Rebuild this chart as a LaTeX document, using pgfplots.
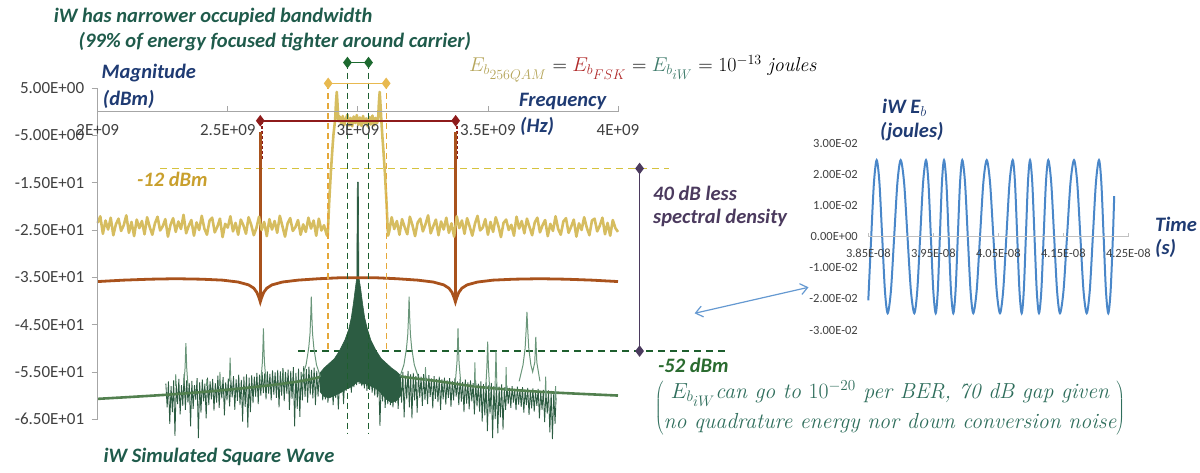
\RequirePackage{fix-cm}
\documentclass[border=0pt]{standalone}
\usepackage{fontspec}
\usepackage{pgfplots}
\pgfplotsset{compat=1.18}
\usetikzlibrary{arrows.meta}
\newfontfamily\calibri{Carlito}
\definecolor{axisgray}{HTML}{A6A6A6}
\definecolor{ticktext}{HTML}{404040}
\definecolor{titleteal}{HTML}{1F5B4B}
\definecolor{navy}{HTML}{1F3B73}
\definecolor{goldtext}{HTML}{C9A02E}
\definecolor{purp}{HTML}{4B3A5E}
\definecolor{green52}{HTML}{2A6B2F}
\definecolor{parteal}{HTML}{2F6E5C}
\definecolor{qamyellow}{HTML}{D6BD60}
\definecolor{fskbrown}{HTML}{A9521C}
\definecolor{darkred}{HTML}{8E1B1B}
\definecolor{goldline}{HTML}{E8B94F}
\definecolor{golddash}{HTML}{E5A83A}
\definecolor{olivedash}{HTML}{D5C23E}
\definecolor{dkgreenline}{HTML}{1D6A30}
\definecolor{greendash}{HTML}{1E5E2E}
\definecolor{noisegreen}{HTML}{2C5C42}
\definecolor{spikegreen}{HTML}{6A967A}
\definecolor{trendgreen}{HTML}{52804F}
\definecolor{sineblue}{HTML}{4A87C9}
\definecolor{eqgold}{HTML}{B5A55A}
\definecolor{eqred}{HTML}{B02A2A}
\definecolor{eqteal}{HTML}{3D7A6A}
\begin{document}
\begin{tikzpicture}[x=1pt,y=1pt]
\useasboundingbox (0,0) rectangle (1200,472);
\begin{axis}[
  at={(97.7pt,52.8pt)}, anchor=south west,
  scale only axis, width=520.3pt, height=331.1pt,
  xmin=2, xmax=4, ymin=-65, ymax=5,
  axis x line=middle, axis y line=left,
  axis line style={draw=axisgray, line width=0.8pt, -},
  hide obscured x ticks=false, hide obscured y ticks=false,
  axis on top,
  xtick={2,2.5,3,3.5,4}, xticklabels={2E+09,2.5E+09,3E+09,3.5E+09,4E+09},
  ytick={5,-5,-15,-25,-35,-45,-55,-65},
  yticklabels={5.00E+00,-5.00E+00,-1.50E+01,-2.50E+01,-3.50E+01,-4.50E+01,-5.50E+01,-6.50E+01},
  /pgf/number format/assume math mode=true,
  tick label style={font=\calibri\fontsize{17}{17}\selectfont, text=ticktext},
  xticklabel style={yshift=-9pt}, yticklabel style={xshift=-4pt},
  major tick length=6pt,
  tick style={draw=axisgray, line width=0.8pt},
  xtick align=inside, ytick align=outside,
  clip=false,
]
% -12 dBm and -52 dBm reference lines
\addplot[olivedash, line width=1.5pt, dash pattern=on 7pt off 5pt] coordinates {(2.24,-12) (4.197,-12)};
\addplot[greendash, line width=1.5pt, dash pattern=on 7pt off 5pt] coordinates {(2.77,-50.6) (4.425,-50.6)};
% iW noise, left band
\addplot[noisegreen, line width=0.85pt] coordinates {
(2.262,-57.5)(2.267,-62.5)(2.272,-57.0)(2.277,-66.0)(2.282,-58.0)(2.287,-63.5)(2.292,-56.8)(2.297,-68.5)(2.302,-57.6)(2.307,-61.8)
(2.312,-56.5)(2.317,-64.0)(2.322,-57.8)(2.327,-62.2)(2.332,-55.5)(2.337,-63.0)(2.342,-56.8)(2.347,-61.5)(2.352,-57.3)(2.357,-66.5)
(2.362,-56.9)(2.367,-62.8)(2.372,-57.8)(2.377,-60.9)(2.382,-56.3)(2.387,-69.0)(2.392,-57.2)(2.397,-63.6)(2.402,-56.6)(2.407,-61.2)
(2.412,-57.5)(2.417,-64.8)(2.422,-56.2)(2.427,-62.0)(2.432,-57.0)(2.437,-60.8)(2.442,-56.5)(2.447,-63.2)(2.452,-57.4)(2.457,-61.5)
(2.462,-55.8)(2.467,-62.6)(2.472,-56.9)(2.477,-60.6)(2.482,-56.1)(2.487,-64.2)(2.492,-57.2)(2.497,-61.0)(2.502,-56.4)(2.507,-62.3)
(2.512,-56.8)(2.517,-60.4)(2.522,-55.9)(2.527,-63.0)(2.532,-56.6)(2.537,-61.1)(2.542,-55.6)(2.547,-62.0)(2.552,-56.7)(2.557,-65.5)
(2.562,-56.0)(2.567,-62.4)(2.572,-55.5)(2.577,-66.8)(2.582,-56.2)(2.587,-63.5)(2.592,-55.7)(2.597,-61.6)(2.602,-56.0)(2.607,-60.2)
(2.612,-55.2)(2.617,-61.8)(2.622,-55.6)(2.627,-60.0)(2.632,-55.0)(2.637,-59.5)(2.642,-55.3)(2.647,-60.8)(2.652,-54.9)(2.657,-59.6)
(2.662,-55.4)(2.667,-61.0)(2.672,-54.7)(2.677,-59.8)(2.682,-55.1)(2.687,-60.5)(2.692,-54.6)(2.697,-62.5)(2.702,-54.9)(2.707,-60.0)
(2.712,-54.2)(2.717,-61.2)(2.722,-55.0)(2.727,-59.6)(2.732,-54.5)(2.737,-63.0)(2.742,-54.8)(2.747,-60.7)(2.752,-54.0)(2.757,-66.5)
(2.762,-55.2)(2.767,-62.8)(2.772,-54.3)(2.777,-64.5)(2.782,-55.0)(2.787,-61.0)(2.792,-53.8)(2.797,-60.3)(2.802,-54.4)(2.807,-61.5)
(2.812,-53.9)(2.817,-59.8)(2.822,-54.6)(2.827,-60.6)(2.832,-54.1)(2.837,-62.0)(2.842,-54.8)(2.847,-60.2)(2.852,-55.2)(2.857,-59.0)};
% iW noise, right band
\addplot[noisegreen, line width=0.85pt] coordinates {
(3.163,-55.6)(3.168,-61.5)(3.173,-55.0)(3.178,-64.6)(3.183,-55.8)(3.188,-60.8)(3.193,-54.8)(3.198,-62.5)(3.203,-55.5)(3.208,-64.8)
(3.213,-55.2)(3.218,-61.0)(3.223,-55.9)(3.228,-63.6)(3.233,-55.4)(3.238,-60.5)(3.243,-56.0)(3.248,-62.2)(3.253,-55.5)(3.258,-60.9)
(3.263,-56.2)(3.268,-61.8)(3.273,-55.7)(3.278,-60.3)(3.283,-56.4)(3.288,-62.7)(3.293,-55.9)(3.298,-60.7)(3.303,-56.5)(3.308,-61.4)
(3.313,-56.0)(3.318,-63.0)(3.323,-56.6)(3.328,-60.8)(3.333,-56.2)(3.338,-61.9)(3.343,-56.8)(3.348,-60.5)(3.353,-56.3)(3.358,-62.4)
(3.363,-56.9)(3.368,-61.0)(3.373,-56.4)(3.378,-60.2)(3.383,-57.0)(3.388,-62.0)(3.393,-56.5)(3.398,-61.3)(3.403,-57.1)(3.408,-63.5)
(3.413,-56.6)(3.418,-61.7)(3.423,-57.2)(3.428,-62.9)(3.433,-56.8)(3.438,-61.2)(3.443,-57.4)(3.448,-64.0)(3.453,-56.9)(3.458,-62.3)
(3.463,-57.5)(3.468,-63.4)(3.473,-57.0)(3.478,-65.5)(3.483,-57.6)(3.488,-64.2)(3.493,-57.2)(3.498,-67.5)(3.503,-57.8)(3.508,-63.8)
(3.513,-57.3)(3.518,-69.0)(3.523,-58.0)(3.528,-65.0)(3.533,-57.5)(3.538,-68.0)(3.543,-58.1)(3.548,-64.6)(3.553,-57.6)(3.558,-67.2)
(3.563,-58.3)(3.568,-63.0)(3.573,-57.9)(3.578,-61.8)(3.583,-58.4)(3.588,-62.6)(3.593,-58.0)(3.598,-61.5)(3.603,-58.6)(3.608,-63.1)
(3.613,-58.1)(3.618,-61.9)(3.623,-58.7)(3.628,-62.4)(3.633,-58.2)(3.638,-63.6)(3.643,-58.8)(3.648,-62.0)(3.653,-58.4)(3.658,-64.1)
(3.663,-58.9)(3.668,-62.7)(3.673,-58.5)(3.678,-63.4)(3.683,-59.0)(3.688,-62.2)(3.693,-58.6)(3.698,-64.8)(3.703,-59.1)(3.708,-63.0)
(3.713,-58.8)(3.718,-65.6)(3.723,-59.2)(3.728,-63.8)(3.733,-58.9)(3.738,-67.8)(3.743,-59.0)(3.748,-69.2)(3.753,-59.3)(3.758,-66.0)(3.762,-60.5)};
% trend line
\addplot[trendgreen, line width=2.6pt, smooth] coordinates {
(2.0,-60.7)(2.3,-59.7)(2.55,-58.5)(2.75,-57.2)(2.86,-56.0)(3.0,-53.5)(3.15,-55.8)(3.3,-56.9)(3.47,-58.2)(3.7,-59.2)(4.0,-60.0)};
% central dense region
\addplot[fill=noisegreen, draw=noisegreen, line width=0.6pt] coordinates {
(2.855,-55.2)(2.87,-54.2)(2.89,-53.2)(2.91,-52.2)(2.93,-50.5)(2.95,-48.3)(2.965,-46.0)(2.975,-43.5)(2.983,-40.5)(2.99,-37.5)
(2.996,-35.0)(2.998,-14.9)(3.002,-14.9)(3.004,-35.0)
(3.011,-37.5)(3.018,-40.5)(3.026,-43.5)(3.037,-46.0)(3.05,-48.3)(3.07,-50.5)(3.09,-52.2)(3.11,-53.2)(3.13,-54.2)(3.15,-55.0)(3.165,-55.8)
(3.165,-60.0)(3.15,-61.0)(3.13,-61.5)(3.11,-60.8)(3.09,-59.5)(3.07,-58.5)(3.05,-58.0)(3.03,-57.5)(3.015,-57.6)(3.005,-57.0)
(2.995,-57.2)(2.985,-57.8)(2.97,-58.3)(2.95,-58.8)(2.93,-59.5)(2.91,-60.0)(2.89,-60.5)(2.87,-60.2)(2.855,-59.2)} -- cycle;
\addplot[noisegreen, line width=0.85pt] coordinates {
(2.860,-56.0)(2.865,-61.0)(2.870,-57.0)(2.875,-60.8)(2.880,-56.5)(2.885,-61.5)(2.890,-57.5)(2.895,-60.2)(2.900,-56.0)(2.905,-62.0)
(2.910,-57.0)(2.915,-60.5)(2.920,-56.2)(2.925,-62.9)(2.930,-56.8)(2.935,-59.5)(2.940,-55.5)(2.945,-61.8)(2.950,-55.9)(2.955,-59.0)
(2.960,-55.0)(2.965,-58.6)(2.970,-54.5)(2.975,-59.4)(2.980,-54.0)(2.985,-58.2)(2.990,-53.5)(2.995,-57.8)(3.000,-52.0)(3.005,-57.5)
(3.010,-53.5)(3.015,-58.0)(3.020,-54.0)(3.025,-58.5)(3.030,-54.5)(3.035,-59.0)(3.040,-55.0)(3.045,-58.8)(3.050,-55.2)(3.055,-59.4)
(3.060,-55.8)(3.065,-60.0)(3.070,-55.5)(3.075,-60.4)(3.080,-56.0)(3.085,-66.4)(3.090,-56.5)(3.095,-61.2)(3.100,-56.2)(3.105,-62.6)
(3.110,-56.8)(3.115,-61.8)(3.120,-57.0)(3.125,-62.0)(3.130,-56.5)(3.135,-62.5)(3.140,-57.2)(3.145,-61.5)(3.150,-56.8)(3.155,-62.8)(3.160,-57.0)};
% spurs
\addplot[spikegreen, line width=1pt] coordinates {
(2.786,-56)(2.801,-53.5)(2.811,-50)(2.816,-47)(2.819,-43)(2.821,-39.1)(2.823,-43)(2.826,-47)(2.831,-50)(2.841,-53.5)(2.856,-56)};
\addplot[spikegreen, line width=1pt] coordinates {
(3.162,-56)(3.177,-53.5)(3.187,-50)(3.192,-47)(3.195,-43)(3.197,-39.1)(3.199,-43)(3.202,-47)(3.207,-50)(3.217,-53.5)(3.232,-56)};
\addplot[spikegreen, line width=1pt] coordinates {
(3.620,-57)(3.635,-53.5)(3.643,-50)(3.647,-46)(3.650,-42.3)(3.653,-46)(3.657,-50)(3.665,-53.5)(3.672,-55)(3.680,-53)(3.684,-47.6)(3.688,-53)(3.700,-57)};
\addplot[spikegreen, line width=1pt] coordinates {(2.627,-57)(2.633,-53)(2.635,-50)(2.637,-45.8)(2.639,-50)(2.641,-53)(2.647,-57)};
\addplot[spikegreen, line width=1pt] coordinates {(3.375,-57)(3.381,-53)(3.383,-50)(3.385,-45.8)(3.387,-50)(3.389,-53)(3.395,-57)};
\addplot[spikegreen, line width=1pt] coordinates {(2.331,-58)(2.336,-54)(2.339,-48.9)(2.342,-54)(2.347,-58)};
\addplot[spikegreen, line width=1pt] coordinates {(3.491,-59)(3.496,-54)(3.499,-48.6)(3.502,-54)(3.507,-59)};
\addplot[spikegreen, line width=0.9pt] coordinates {(3.527,-59)(3.531,-50.5)(3.535,-59)};
\addplot[spikegreen, line width=0.9pt] coordinates {(2.298,-58)(2.300,-55.5)(2.302,-58)};
\addplot[spikegreen, line width=0.9pt] coordinates {(2.418,-58)(2.420,-56.5)(2.422,-58)};
\addplot[spikegreen, line width=0.9pt] coordinates {(2.468,-58)(2.470,-55.0)(2.472,-58)};
\addplot[spikegreen, line width=0.9pt] coordinates {(2.506,-57)(2.509,-52.0)(2.512,-57)};
\addplot[spikegreen, line width=0.9pt] coordinates {(2.712,-57)(2.714,-54.5)(2.716,-57)};
\addplot[spikegreen, line width=0.9pt] coordinates {(3.258,-57)(3.260,-54.0)(3.262,-57)};
\addplot[spikegreen, line width=0.9pt] coordinates {(3.448,-58)(3.450,-53.0)(3.452,-58)};
\addplot[spikegreen, line width=0.9pt] coordinates {(3.568,-59)(3.570,-54.0)(3.572,-59)};
\addplot[spikegreen, line width=0.9pt] coordinates {(3.720,-60)(3.722,-56.0)(3.724,-60)};
\addplot[spikegreen, line width=0.9pt] coordinates {(3.758,-61)(3.760,-58.0)(3.762,-61)};
% FSK
\addplot[fskbrown, line width=2.8pt] coordinates {
(2.000,-35.9)(2.100,-35.6)(2.200,-35.4)(2.300,-35.3)(2.400,-35.4)(2.480,-35.6)(2.540,-36.0)(2.580,-36.6)(2.600,-37.3)(2.612,-38.2)
(2.620,-39.3)(2.625,-40.2)(2.630,-39.3)(2.638,-38.2)(2.650,-37.3)(2.670,-36.6)(2.710,-36.0)(2.770,-35.6)(2.850,-35.3)(2.930,-35.1)
(3.000,-35.1)(3.070,-35.1)(3.150,-35.3)(3.230,-35.6)(3.290,-36.0)(3.330,-36.6)(3.350,-37.3)(3.362,-38.2)(3.370,-39.3)(3.375,-40.2)
(3.380,-39.3)(3.388,-38.2)(3.400,-37.3)(3.420,-36.6)(3.460,-36.0)(3.520,-35.6)(3.600,-35.4)(3.700,-35.3)(3.800,-35.4)(3.900,-35.6)(4.000,-35.9)};
\addplot[darkred, line width=1.5pt, dash pattern=on 3pt off 2pt] coordinates {(2.631,-1.9) (2.631,-10)};
\addplot[darkred, line width=1.5pt, dash pattern=on 3pt off 2pt] coordinates {(3.381,-1.9) (3.381,-10)};
\addplot[fskbrown, line width=2.8pt] coordinates {(2.625,-39.5) (2.625,-4.3)};
\addplot[fskbrown, line width=2.8pt] coordinates {(3.375,-39.5) (3.375,-4.3)};
% 256QAM
\addplot[qamyellow, line width=2.6pt, line join=round] coordinates {
(2.000,-23.5)(2.010,-22.1)(2.020,-25.8)(2.030,-23.0)(2.040,-24.9)(2.050,-22.4)(2.060,-26.1)(2.070,-23.8)(2.080,-22.6)(2.090,-25.2)
(2.100,-24.0)(2.110,-21.9)(2.120,-25.6)(2.130,-23.3)(2.140,-26.3)(2.150,-22.8)(2.160,-24.6)(2.170,-23.1)(2.180,-25.9)(2.190,-22.3)
(2.200,-24.4)(2.210,-26.0)(2.220,-23.6)(2.230,-22.2)(2.240,-25.1)(2.250,-24.2)(2.260,-22.7)(2.270,-26.4)(2.280,-23.9)(2.290,-22.5)
(2.300,-25.4)(2.310,-23.2)(2.320,-24.8)(2.330,-21.8)(2.340,-25.7)(2.350,-24.1)(2.360,-22.9)(2.370,-26.2)(2.380,-23.4)(2.390,-25.0)
(2.400,-22.0)(2.410,-24.7)(2.420,-26.0)(2.430,-23.0)(2.440,-22.4)(2.450,-25.5)(2.460,-24.3)(2.470,-22.6)(2.480,-26.5)(2.490,-23.7)
(2.500,-24.5)(2.510,-22.1)(2.520,-25.3)(2.530,-23.5)(2.540,-26.0)(2.550,-22.8)(2.560,-24.0)(2.570,-25.8)(2.580,-22.3)(2.590,-23.9)
(2.600,-26.1)(2.610,-24.6)(2.620,-22.2)(2.630,-25.0)(2.640,-23.3)(2.650,-26.3)(2.660,-22.7)(2.670,-24.9)(2.680,-23.1)(2.690,-25.6)
(2.700,-22.0)(2.710,-24.2)(2.720,-26.4)(2.730,-23.6)(2.740,-22.5)(2.750,-25.2)(2.760,-24.4)(2.770,-22.9)(2.780,-26.0)(2.790,-23.8)
(2.800,-25.4)(2.810,-22.4)(2.820,-24.7)(2.830,-23.0)(2.840,-26.2)(2.850,-22.6)(2.860,-25.1)(2.870,-24.0)(2.880,-26.0)
(2.884,-26.3)(2.890,-19.0)(2.896,-13.0)(2.902,-8.0)(2.906,-5.0)(2.910,-3.0)(2.913,-1.5)(2.916,2.0)(2.919,4.2)(2.922,1.5)
(2.925,-2.0)(2.930,-1.0)(2.936,-2.6)(2.942,-0.9)(2.948,-2.8)(2.954,-1.5)(2.960,-0.6)(2.966,-2.9)(2.972,-1.3)(2.978,-3.1)
(2.984,-1.0)(2.990,-2.4)(2.996,-0.7)(3.002,-2.8)(3.008,-1.2)(3.014,-3.0)(3.020,-0.9)(3.026,-2.5)(3.032,-1.4)(3.038,-3.1)
(3.044,-1.1)(3.050,-2.7)(3.056,-0.8)(3.062,-2.9)(3.068,-1.3)(3.074,-2.4)(3.078,-1.5)(3.081,2.0)(3.084,4.2)(3.087,1.5)
(3.090,-1.5)(3.094,-5.0)(3.098,-8.0)(3.104,-13.0)(3.110,-19.0)(3.116,-26.2)
(3.120,-25.5)(3.130,-22.3)(3.140,-24.8)(3.150,-23.1)(3.160,-26.0)(3.170,-22.7)(3.180,-24.4)(3.190,-25.9)(3.200,-22.2)(3.210,-24.0)
(3.220,-26.3)(3.230,-23.4)(3.240,-22.6)(3.250,-25.3)(3.260,-23.8)(3.270,-21.9)(3.280,-25.7)(3.290,-24.2)(3.300,-22.8)(3.310,-26.1)
(3.320,-23.2)(3.330,-24.9)(3.340,-22.4)(3.350,-25.6)(3.360,-23.6)(3.370,-26.4)(3.380,-22.1)(3.390,-24.6)(3.400,-23.0)(3.410,-25.8)
(3.420,-22.5)(3.430,-24.3)(3.440,-26.2)(3.450,-23.7)(3.460,-22.0)(3.470,-25.1)(3.480,-24.5)(3.490,-22.7)(3.500,-26.0)(3.510,-23.3)
(3.520,-25.4)(3.530,-22.3)(3.540,-24.1)(3.550,-26.5)(3.560,-23.5)(3.570,-22.8)(3.580,-25.0)(3.590,-23.9)(3.600,-26.2)(3.610,-22.2)
(3.620,-24.7)(3.630,-23.1)(3.640,-25.7)(3.650,-22.6)(3.660,-24.4)(3.670,-26.1)(3.680,-23.4)(3.690,-22.4)(3.700,-25.5)(3.710,-24.0)
(3.720,-22.9)(3.730,-26.3)(3.740,-23.7)(3.750,-25.2)(3.760,-22.1)(3.770,-24.8)(3.780,-26.0)(3.790,-23.2)(3.800,-22.5)(3.810,-25.6)
(3.820,-24.3)(3.830,-22.8)(3.840,-26.4)(3.850,-23.6)(3.860,-25.0)(3.870,-22.3)(3.880,-24.5)(3.890,-26.1)(3.900,-23.0)(3.910,-22.6)
(3.920,-25.3)(3.930,-24.1)(3.940,-22.4)(3.950,-25.9)(3.960,-23.5)(3.970,-26.2)(3.980,-22.9)(3.990,-24.6)(4.000,-25.4)};
% bandwidth markers
\addplot[golddash, line width=1.4pt, dash pattern=on 6pt off 4pt] coordinates {(2.886,6.0) (2.886,-50.6)};
\addplot[golddash, line width=1.4pt, dash pattern=on 6pt off 4pt] coordinates {(3.109,6.0) (3.109,-50.6)};
\addplot[greendash, line width=1.4pt, dash pattern=on 6pt off 4pt] coordinates {(2.960,10.4) (2.960,-67.9)};
\addplot[greendash, line width=1.4pt, dash pattern=on 6pt off 4pt] coordinates {(3.041,10.4) (3.041,-67.9)};
\addplot[darkred, line width=1.6pt, mark=diamond*, mark size=4.5pt] coordinates {(2.625,-1.9) (3.376,-1.9)};
\addplot[goldline, line width=1.6pt, mark=diamond*, mark size=4.5pt] coordinates {(2.886,6.0) (3.109,6.0)};
\addplot[dkgreenline, line width=1.6pt, mark=diamond*, mark size=4.5pt] coordinates {(2.960,10.4) (3.041,10.4)};
\addplot[purp, line width=1.6pt, mark=diamond*, mark size=4.5pt] coordinates {(4.083,-12) (4.083,-50.6)};
\end{axis}
% inset
\begin{axis}[
  at={(868.3pt,142pt)}, anchor=south west,
  scale only axis, width=260pt, height=186.7pt,
  xmin=38.5, xmax=42.5, ymin=-0.03, ymax=0.03,
  axis x line=middle, axis y line=left,
  x axis line style={draw=axisgray!70, line width=0.8pt, -},
  y axis line style={draw=none},
  hide obscured x ticks=false, hide obscured y ticks=false,
  scaled y ticks=false, scaled x ticks=false,
  axis on top,
  xtick={38.5,39.5,40.5,41.5,42.5},
  xticklabels={3.85E-08,3.95E-08,4.05E-08,4.15E-08,4.25E-08},
  ytick={-0.03,-0.02,-0.01,0,0.01,0.02,0.03},
  yticklabels={-3.00E-02,-2.00E-02,-1.00E-02,0.00E+00,1.00E-02,2.00E-02,3.00E-02},
  /pgf/number format/assume math mode=true,
  tick label style={font=\calibri\fontsize{12.5}{12.5}\selectfont, text=ticktext},
  xticklabel style={yshift=-9pt}, yticklabel style={xshift=-5pt},
  x tick style={draw=axisgray!70, line width=0.8pt}, ytick style={draw=none},
  major tick length=4pt, xtick align=inside,
  clip=false,
]
\addplot[sineblue, line width=2pt, smooth] coordinates {
(38.500,-0.0205)(38.545,0)(38.587,0.0174)(38.629,0.0246)
(38.671,0.0174)(38.7135,0)(38.756,-0.0174)(38.798,-0.0246)
(38.848,-0.0174)(38.898,0)(38.948,0.0174)(38.998,0.0246)
(39.0505,0.0174)(39.103,0)(39.1555,-0.0174)(39.208,-0.0246)
(39.253,-0.0174)(39.298,0)(39.343,0.0174)(39.388,0.0246)
(39.425,0.0174)(39.4625,0)(39.500,-0.0174)(39.537,-0.0246)
(39.569,-0.0174)(39.601,0)(39.633,0.0174)(39.665,0.0246)
(39.701,0.0174)(39.7365,0)(39.772,-0.0174)(39.808,-0.0246)
(39.8425,-0.0174)(39.877,0)(39.9115,0.0174)(39.946,0.0246)
(39.988,0.0174)(40.0305,0)(40.073,-0.0174)(40.115,-0.0246)
(40.167,-0.0174)(40.2185,0)(40.270,0.0174)(40.322,0.0246)
(40.373,0.0174)(40.424,0)(40.475,-0.0174)(40.526,-0.0246)
(40.575,-0.0174)(40.624,0)(40.673,0.0174)(40.722,0.0246)
(40.7565,0.0174)(40.791,0)(40.8255,-0.0174)(40.860,-0.0246)
(40.892,-0.0174)(40.924,0)(40.956,0.0174)(40.988,0.0246)
(41.0225,0.0174)(41.057,0)(41.0915,-0.0174)(41.126,-0.0246)
(41.162,-0.0174)(41.1975,0)(41.233,0.0174)(41.269,0.0246)
(41.314,0.0174)(41.359,0)(41.404,-0.0174)(41.449,-0.0246)
(41.503,-0.0174)(41.557,0)(41.611,0.0174)(41.665,0.0246)
(41.714,0.0174)(41.7625,0)(41.811,-0.0174)(41.860,-0.0246)
(41.907,-0.0174)(41.9545,0)(42.002,0.0174)(42.049,0.0246)
(42.085,0.0174)(42.1205,0)(42.156,-0.0174)(42.192,-0.0246)
(42.228,-0.0174)(42.263,0)(42.283,0.0130)};
\end{axis}
% annotations
\def\ann{\calibri\bfseries\itshape\fontsize{20.5}{24}\selectfont}
\node[anchor=west, text=titleteal, inner sep=0pt] at (53.6,455.3) {\ann iW has narrower occupied bandwidth};
\node[anchor=west, text=titleteal, inner sep=0pt] at (78.5,430.3) {\ann (99\% of energy focused tighter around carrier)};
\node[anchor=west, text=navy, inner sep=0pt] at (101.5,399.3) {\ann Magnitude};
\node[anchor=west, text=navy, inner sep=0pt] at (102.7,372.7) {\ann (dBm)};
\node[anchor=west, text=navy, inner sep=0pt] at (519,370.3) {\ann Frequency};
\node[anchor=west, text=navy, inner sep=0pt] at (520,346) {\ann (Hz)};
\node[anchor=west, inner sep=0pt] at (469,403) {\fontsize{20}{24}\selectfont $\color{eqgold}E_{b_{\scriptstyle 256QAM}}\color{black}=\color{eqred}E_{b_{\scriptstyle FSK}}\color{black}=\color{eqteal}E_{b_{\scriptstyle iW}}\color{black}=10^{-13}\ \mathit{joules}$};
\node[anchor=west, text=goldtext, inner sep=0pt] at (137,292.7) {\ann -12 dBm};
\node[anchor=west, text=purp, inner sep=0pt] at (653,278.7) {\ann 40 dB less};
\node[anchor=west, text=purp, inner sep=0pt] at (653,253.7) {\ann spectral density};
\node[anchor=west, text=green52, inner sep=0pt] at (658,107) {\ann -52 dBm};
\node[text=parteal, inner sep=0pt] at (890,64) {\fontsize{21.8}{26}\selectfont $\left(\begin{array}{@{}c@{}}E_{b_{\scriptstyle iW}}\mbox{\itshape can go to }10^{-20}\mbox{\itshape\ per BER, 70 dB gap given}\\[4pt] \mbox{\itshape no quadrature energy nor down conversion noise}\end{array}\right)$};
\node[anchor=west, text=titleteal, inner sep=0pt] at (103.4,15.3) {\ann iW Simulated Square Wave};
\node[anchor=west, text=navy, inner sep=0pt] at (882,364) {\ann iW E$_b$};
\node[anchor=west, text=navy, inner sep=0pt] at (880,340.3) {\ann (joules)};
\node[anchor=west, text=navy, inner sep=0pt] at (1155,248) {\ann Time};
\node[anchor=west, text=navy, inner sep=0pt] at (1155,224) {\ann (s)};
\draw[sineblue!85, line width=1.2pt, {Straight Barb[length=7pt,width=11pt]}-{Straight Barb[length=7pt,width=11pt]}] (694.6,158.7) -- (808.5,184.7);
\end{tikzpicture}
\end{document}
